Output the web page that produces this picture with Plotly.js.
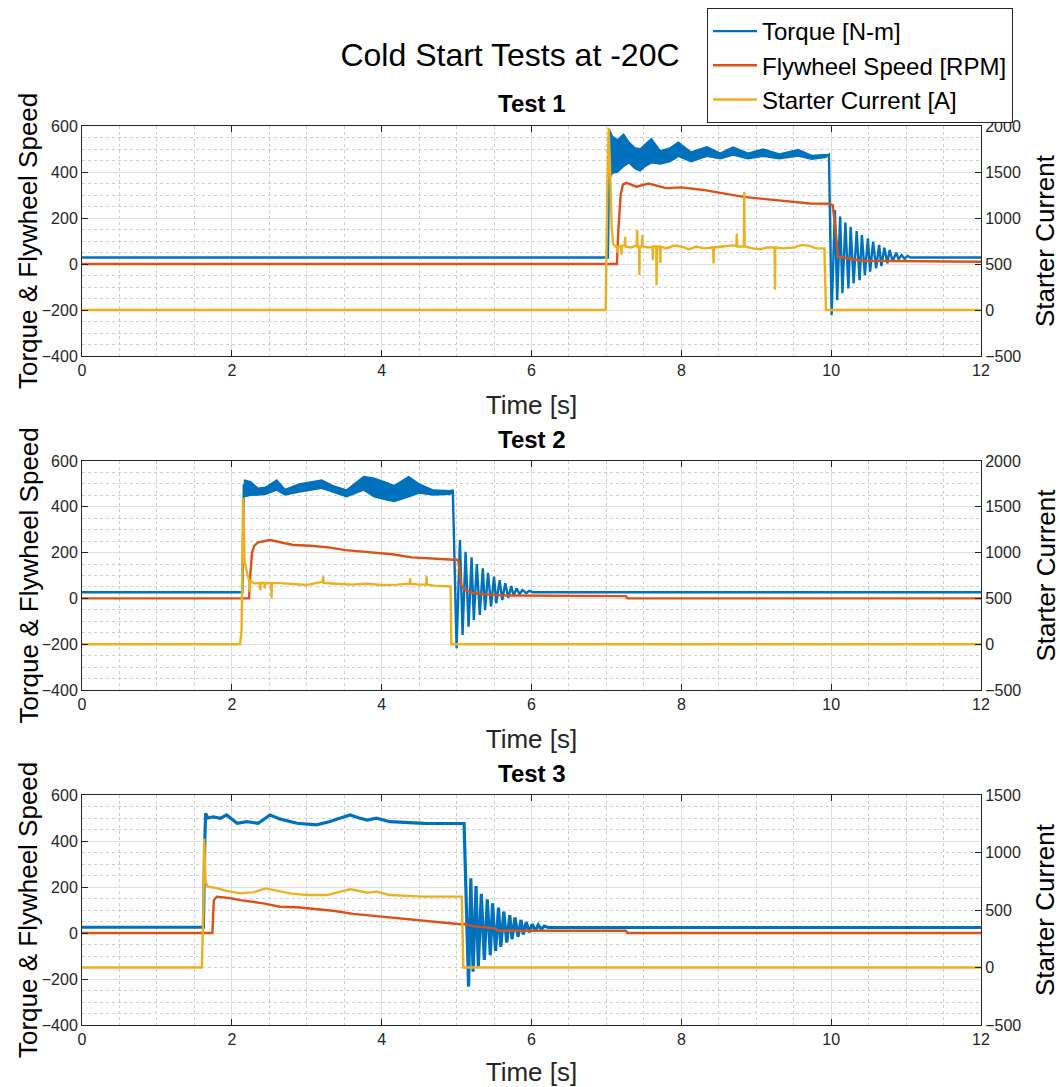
<!DOCTYPE html>
<html>
<head>
<meta charset="utf-8">
<script src="https://cdn.plot.ly/plotly-3.0.1.min.js"></script>
<style>html,body{margin:0;padding:0;background:#fff;}#chart{width:1060px;height:1087px;}</style>
</head>
<body>
<div id="chart"></div>
<script>
// ---------------- DATA ----------------
const seriesNames = ['Torque [N-m]', 'Flywheel Speed [RPM]', 'Starter Current [A]'];
const testTitles = ['Test 1', 'Test 2', 'Test 3'];
const leftAxisTitle = 'Torque & Flywheel Speed';
const rightAxisTitle = 'Starter Current';
const xAxisTitle = 'Time [s]';
const xTickVals = [0, 2, 4, 6, 8, 10, 12];

// Test 1
const t1TorqueT = [0, 7.02, 7.04, 7.06, 7.12, 7.23, 7.34, 7.45, 7.60, 7.72, 7.96, 8.13, 8.34, 8.52, 8.69, 8.89, 9.09, 9.31, 9.56, 9.74, 9.94, 9.97,
  10.006, 10.05, 10.08, 10.12, 10.15, 10.19, 10.23, 10.26, 10.30, 10.34, 10.38, 10.41, 10.45, 10.49, 10.52, 10.56, 10.60, 10.64, 10.67, 10.71, 10.75, 10.78, 10.82, 10.87, 10.90, 10.94, 10.98, 11.02, 11.06, 12];
const t1TorqueV = [28, 28, 560, 470, 470, 520, 470, 465, 495, 462, 500, 465, 490, 468, 492, 470, 485, 468, 485, 462, 470, 475,
  -222, 235, -157, 206, -127, 180, -106, 162, -84, 143, -70, 126, -48, 112, -33, 97, -19, 83, -9, 71, 3, 61, 13, 49, 20, 39, 23, 35, 28, 28];
const t1BandT  = [7.04, 7.08, 7.15, 7.23, 7.30, 7.38, 7.45, 7.52, 7.60, 7.72, 7.85, 7.96, 8.13, 8.34, 8.52, 8.69, 8.89, 9.09, 9.31, 9.56, 9.74, 9.94];
const t1BandHi = [585, 555, 540, 565, 530, 505, 500, 520, 545, 492, 505, 530, 487, 510, 482, 508, 482, 500, 478, 498, 472, 476];
const t1BandLo = [370, 395, 400, 425, 440, 415, 405, 425, 440, 435, 445, 468, 445, 468, 458, 474, 458, 468, 458, 470, 456, 464];
const t1SpeedT = [0, 7.14, 7.16, 7.19, 7.22, 7.27, 7.40, 7.56, 7.80, 8.0, 8.29, 8.56, 8.83, 9.09, 9.45, 9.72, 9.98, 10.02, 10.06, 10.09, 10.2, 10.4, 12];
const t1SpeedV = [0, 0, 150, 300, 345, 353, 336, 350, 330, 333, 322, 307, 292, 283, 271, 263, 262, 255, 150, 32, 26, 14, 10];
const t1CurrT = [0, 6.99, 7.01, 7.03, 7.05, 7.07, 7.09, 7.12,
  7.145, 7.15, 7.155, 7.195, 7.20, 7.205, 7.245, 7.25, 7.255, 7.33, 7.405, 7.41, 7.415, 7.435, 7.44, 7.445, 7.475, 7.48, 7.485, 7.55,
  7.615, 7.62, 7.625, 7.665, 7.67, 7.675, 7.715, 7.72, 7.725, 7.80, 7.90, 8.00, 8.10, 8.20, 8.30, 8.425, 8.43, 8.435, 8.55, 8.65,
  8.735, 8.74, 8.745, 8.835, 8.84, 8.845, 8.95, 9.05, 9.15, 9.245, 9.25, 9.255, 9.35, 9.50, 9.60, 9.70, 9.80, 9.91, 9.93, 12];
const t1CurrV = [0, 0, 1200, 1980, 1500, 900, 720, 690,
  690, 620, 690, 690, 600, 700, 700, 797, 690, 680, 700, 870, 690, 690, 380, 690, 690, 815, 690, 680,
  685, 540, 690, 690, 270, 690, 690, 510, 690, 670, 700, 690, 660, 690, 670, 680, 505, 680, 690, 700,
  700, 830, 690, 690, 1286, 690, 670, 660, 680, 680, 220, 680, 670, 680, 705, 700, 670, 670, 0, 0];

// Test 2
const t2TorqueT = [0, 2.14, 2.16, 2.20, 2.30, 2.45, 2.60, 2.71, 2.90, 3.20, 3.35, 3.53, 3.76, 3.90, 4.07, 4.17, 4.36, 4.50, 4.69, 4.91, 4.95,
  5.00, 5.045, 5.08, 5.12, 5.16, 5.20, 5.23, 5.27, 5.31, 5.35, 5.38, 5.42, 5.46, 5.50, 5.53, 5.575, 5.61, 5.65, 5.69, 5.73, 5.76, 5.80, 5.84, 5.88, 5.93, 5.97, 6.02, 12];
const t2TorqueV = [27, 27, 500, 480, 466, 470, 495, 464, 482, 499, 478, 458, 502, 484, 468, 458, 488, 480, 462, 462, 470,
  -218, 255, -160, 204, -124, 179, -94, 150, -72, 131, -51, 112, -36, 95, -21, 80, -7, 66, 3, 54, 10, 44, 19, 37, 23, 33, 27, 27];
const t2BandT  = [2.16, 2.25, 2.35, 2.45, 2.60, 2.71, 2.90, 3.20, 3.35, 3.53, 3.76, 3.90, 4.07, 4.17, 4.36, 4.50, 4.69, 4.91, 4.96];
const t2BandHi = [517, 510, 481, 485, 517, 476, 500, 517, 492, 473, 532, 525, 505, 492, 532, 500, 473, 470, 475];
const t2BandLo = [444, 450, 452, 455, 473, 452, 465, 481, 465, 444, 473, 444, 430, 423, 444, 460, 452, 455, 462];
const t2SpeedT = [0, 2.23, 2.25, 2.27, 2.30, 2.35, 2.51, 2.65, 2.82, 3.05, 3.29, 3.52, 3.87, 4.14, 4.40, 4.70, 4.96, 5.02, 5.04, 5.06, 5.09, 5.12, 5.20, 5.30, 5.60, 7.26, 7.28, 12];
const t2SpeedV = [0, 0, 120, 200, 230, 245, 255, 245, 233, 230, 223, 211, 200, 193, 179, 175, 171, 168, 124, 59, 45, 37, 25, 19, 13, 10, 0, 0];
const t2CurrT = [0, 2.11, 2.13, 2.15, 2.17, 2.19, 2.21, 2.23, 2.24, 2.245, 2.30, 2.375, 2.38, 2.385, 2.435, 2.44, 2.445, 2.525, 2.53, 2.535,
  2.60, 2.80, 3.00, 3.20, 3.215, 3.22, 3.225, 3.40, 3.60, 3.80, 4.00, 4.20, 4.375, 4.38, 4.385, 4.50, 4.595, 4.60, 4.605, 4.70, 4.90, 4.92, 4.93, 12];
const t2CurrV = [0, 0, 150, 1600, 900, 810, 755, 700, 573, 690, 665, 665, 590, 670, 668, 610, 665, 665, 500, 665,
  670, 660, 646, 680, 680, 740, 670, 660, 650, 660, 646, 650, 660, 720, 660, 650, 650, 740, 650, 640, 630, 630, 0, 0];

// Test 3
const t3TorqueT = [0, 1.62, 1.64, 1.65, 1.68, 1.75, 1.85, 1.93, 2.07, 2.20, 2.35, 2.51, 2.65, 2.87, 3.13, 3.30, 3.45, 3.58, 3.70, 3.81, 3.93, 4.11, 4.56, 5.05, 5.10,
  5.16, 5.19, 5.22, 5.26, 5.29, 5.33, 5.37, 5.41, 5.45, 5.48, 5.52, 5.56, 5.59, 5.63, 5.67, 5.71, 5.74, 5.78, 5.82, 5.86, 5.89, 5.93, 5.97, 6.01, 6.05, 6.09, 6.13, 6.17, 6.22, 12];
const t3TorqueV = [25, 25, 410, 520, 500, 505, 499, 513, 477, 484, 477, 513, 495, 477, 470, 484, 500, 513, 500, 491, 499, 484, 477, 474, 476,
  -233, 238, -168, 204, -146, 170, -117, 146, -96, 129, -78, 110, -60, 93, -42, 78, -27, 67, -16, 57, -6, 47, 3, 39, 9, 35, 16, 30, 24, 24];
const t3SpeedT = [0, 1.74, 1.76, 1.80, 1.99, 2.11, 2.42, 2.64, 2.87, 3.13, 3.35, 3.62, 3.89, 4.16, 4.47, 4.78, 5.05, 5.11, 5.22, 5.51, 5.56, 7.26, 7.28, 12];
const t3SpeedV = [0, 0, 143, 158, 151, 143, 129, 114, 112, 103, 97, 83, 74, 67, 57, 47, 38, 39, 30, 20, 10, 10, 0, 0];
const t3CurrT = [0, 1.60, 1.62, 1.63, 1.65, 1.68, 1.80, 1.90, 2.11, 2.30, 2.45, 2.55, 2.78, 3.00, 3.27, 3.45, 3.58, 3.70, 3.81, 3.93, 4.11, 4.56, 5.07, 5.09, 12];
const t3CurrV = [0, 0, 500, 1120, 740, 703, 690, 670, 645, 655, 688, 675, 645, 630, 630, 660, 680, 665, 650, 660, 630, 616, 616, 0, 0];

// ---------------- STYLE ----------------
const C_BLUE = '#0072BD', C_ORANGE = '#D95319', C_YELLOW = '#EDB120';
const FONT = 'Liberation Sans, Arial, Helvetica, sans-serif';
const AX = '#262626';

const tests = [
  {torqueT: t1TorqueT, torqueV: t1TorqueV, bandT: t1BandT, bandHi: t1BandHi, bandLo: t1BandLo, speedT: t1SpeedT, speedV: t1SpeedV, currT: t1CurrT, currV: t1CurrV, rightRange: [-500, 2000], tw: 2.4},
  {torqueT: t2TorqueT, torqueV: t2TorqueV, bandT: t2BandT, bandHi: t2BandHi, bandLo: t2BandLo, speedT: t2SpeedT, speedV: t2SpeedV, currT: t2CurrT, currV: t2CurrV, rightRange: [-500, 2000], tw: 2.4},
  {torqueT: t3TorqueT, torqueV: t3TorqueV, bandT: null, bandHi: null, bandLo: null, speedT: t3SpeedT, speedV: t3SpeedV, currT: t3CurrT, currV: t3CurrV, rightRange: [-500, 1500], tw: 3.2}
];

const W = 1060, H = 1087;
const xDom = [82 / W, 981 / W];
const yPix = [[126, 356], [461, 690], [795, 1025]];
const titleY = [104, 439, 773];

const data = [];
const layout = {
  width: W, height: H,
  margin: {l: 0, r: 0, t: 0, b: 0},
  paper_bgcolor: '#fff', plot_bgcolor: '#fff',
  font: {family: FONT, color: AX},
  showlegend: true,
  hovermode: false,
  title: {text: 'Cold Start Tests at -20C', x: 510 / W, xanchor: 'center', y: 1 - 55 / H, yanchor: 'middle', yref: 'container', xref: 'paper', font: {size: 32, color: '#000', family: FONT}},
  legend: {x: 707 / W, y: 1 - 8 / H, xanchor: 'left', yanchor: 'top', bgcolor: '#fff', bordercolor: AX, borderwidth: 1,
    font: {size: 24, color: '#000', family: FONT}, tracegroupgap: 0, itemwidth: 44},
  annotations: []
};

tests.forEach((T, i) => {
  const xa = i === 0 ? 'x' : 'x' + (i + 1);
  const yl = i === 0 ? 'y' : 'y' + (2 * i + 1);
  const yr = 'y' + (2 * i + 2);
  const xKey = i === 0 ? 'xaxis' : 'xaxis' + (i + 1);
  const ylKey = i === 0 ? 'yaxis' : 'yaxis' + (2 * i + 1);
  const yrKey = 'yaxis' + (2 * i + 2);
  const dom = [1 - yPix[i][1] / H, 1 - yPix[i][0] / H];
  const yMid = (yPix[i][0] + yPix[i][1]) / 2;

  if (T.bandT) {
    data.push({x: T.bandT, y: T.bandLo, xaxis: xa, yaxis: yl, type: 'scatter', mode: 'lines', line: {color: C_BLUE, width: 1.5}, showlegend: false, hoverinfo: 'skip'});
    data.push({x: T.bandT, y: T.bandHi, xaxis: xa, yaxis: yl, type: 'scatter', mode: 'lines', line: {color: C_BLUE, width: 1.5}, fill: 'tonexty', fillcolor: C_BLUE, showlegend: false, hoverinfo: 'skip'});
  }
  data.push({x: T.torqueT, y: T.torqueV, xaxis: xa, yaxis: yl, type: 'scatter', mode: 'lines', name: seriesNames[0], legendgroup: 'a', line: {color: C_BLUE, width: T.tw}, showlegend: i === 0});
  data.push({x: T.speedT, y: T.speedV, xaxis: xa, yaxis: yl, type: 'scatter', mode: 'lines', name: seriesNames[1], legendgroup: 'b', line: {color: C_ORANGE, width: 2.4}, showlegend: i === 0});
  data.push({x: T.currT, y: T.currV, xaxis: xa, yaxis: yr, type: 'scatter', mode: 'lines', name: seriesNames[2], legendgroup: 'c', line: {color: C_YELLOW, width: 2.4}, showlegend: i === 0});

  layout[xKey] = {
    domain: xDom, anchor: yl, range: [0, 12], tickvals: xTickVals, ticks: 'inside', ticklen: 6, tickcolor: AX,
    showline: true, linecolor: AX, linewidth: 1, mirror: 'ticks', zeroline: false,
    showgrid: true, gridcolor: '#dedede', gridwidth: 1,
    minor: {dtick: 0.5, showgrid: true, gridcolor: '#cfcfcf', griddash: 'dot', gridwidth: 1},
    tickfont: {size: 16, color: AX, family: FONT},
    title: {text: xAxisTitle, font: {size: 26, color: AX, family: FONT}, standoff: 17}
  };
  layout[ylKey] = {
    domain: dom, anchor: xa, range: [-400, 600], dtick: 200, tick0: 0, ticks: 'inside', ticklen: 6, tickcolor: AX,
    showline: true, linecolor: AX, linewidth: 1, zeroline: false,
    showgrid: true, gridcolor: '#dedede', gridwidth: 1,
    minor: {dtick: 50, showgrid: true, gridcolor: '#cfcfcf', griddash: 'dot', gridwidth: 1},
    tickfont: {size: 16, color: AX, family: FONT}
  };
  layout[yrKey] = {
    overlaying: yl, side: 'right', anchor: xa, range: T.rightRange, dtick: 500, tick0: 0, ticks: 'inside', ticklen: 6, tickcolor: AX,
    showline: true, linecolor: AX, linewidth: 1, zeroline: false, showgrid: false,
    tickfont: {size: 16, color: AX, family: FONT}
  };
  layout.annotations.push({text: '<b>' + testTitles[i] + '</b>', xref: 'paper', yref: 'paper', x: 531.5 / W, y: 1 - titleY[i] / H,
    xanchor: 'center', yanchor: 'middle', showarrow: false, font: {size: 24, color: '#000', family: FONT}});
  layout.annotations.push({text: leftAxisTitle, xref: 'paper', yref: 'paper', x: 28 / W, y: 1 - yMid / H, textangle: -90,
    xanchor: 'center', yanchor: 'middle', showarrow: false, font: {size: 26, color: '#000', family: FONT}});
  layout.annotations.push({text: rightAxisTitle, xref: 'paper', yref: 'paper', x: 1045 / W, y: 1 - yMid / H, textangle: -90,
    xanchor: 'center', yanchor: 'middle', showarrow: false, font: {size: 26, color: '#000', family: FONT}});
});

Plotly.newPlot('chart', data, layout, {staticPlot: true, displayModeBar: false});
</script>
</body>
</html>
